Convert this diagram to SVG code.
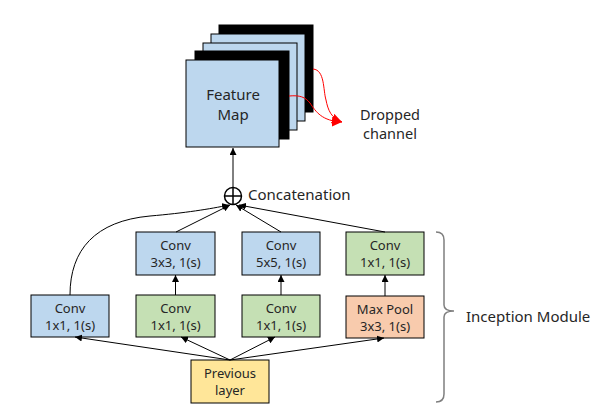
<svg xmlns="http://www.w3.org/2000/svg" width="601" height="420" viewBox="0 0 601 420">
<style>
text{font-family:"Noto Sans","Open Sans","DejaVu Sans",sans-serif;fill:#262626}
.t13{font-size:13px}
.t15{font-size:15px}
.box{stroke:#000;stroke-width:1}
.blue{fill:#BDD7EE}
.green{fill:#C5E0B4}
.orange{fill:#F8CBAD}
.yellow{fill:#FFE699}
.ln{fill:none;stroke:#000;stroke-width:1}
.red{fill:none;stroke:#FF0000;stroke-width:1}
</style>
<defs>
<marker id="ah" viewBox="0 0 10 10" refX="10" refY="5" markerWidth="7" markerHeight="7" markerUnits="userSpaceOnUse" orient="auto"><path d="M0,0 L10,5 L0,10 z" fill="#000"/></marker>
<marker id="ahr" viewBox="0 0 10 10" refX="10" refY="5" markerWidth="10" markerHeight="10" markerUnits="userSpaceOnUse" orient="auto"><path d="M0,0 L10,5 L0,10 z" fill="#FF0000"/></marker>
</defs>
<g id="featuremap">
<rect x="219" y="25" width="94" height="87" fill="#000" stroke="#000"/>
<rect x="211" y="34" width="94" height="87" class="box blue"/>
<rect x="203" y="43" width="94" height="87" class="box blue"/>
<rect x="195" y="51" width="94" height="88" fill="#000" stroke="#000"/>
<rect x="186" y="60" width="93" height="87" class="box blue"/>
<text class="t15" x="233" y="100" text-anchor="middle">Feature</text>
<text class="t15" x="233" y="120" text-anchor="middle">Map</text>
</g>
<g id="dropped">
<text x="390" y="119.5" text-anchor="middle" style="font-size:14.5px">Dropped</text>
<text x="390" y="138.5" text-anchor="middle" style="font-size:14.5px">channel</text>
</g>
<g id="concat">
<circle cx="233" cy="196" r="8.5" fill="#fff" stroke="#000" stroke-width="1.5"/>
<line x1="224.5" y1="196" x2="241.5" y2="196" stroke="#000" stroke-width="1.5"/>
<line x1="233" y1="187.5" x2="233" y2="204.5" stroke="#000" stroke-width="1.5"/>
<text class="t15" x="248" y="200">Concatenation</text>
</g>
<g id="conv1x1a">
<rect x="31" y="295" width="78" height="42" class="box blue"/>
<text class="t13" x="70" y="313" text-anchor="middle">Conv</text>
<text class="t13" x="70" y="330" text-anchor="middle">1x1, 1(s)</text>
</g>
<g id="conv3x3">
<rect x="136" y="232" width="79" height="43" class="box blue"/>
<text class="t13" x="175.5" y="250" text-anchor="middle">Conv</text>
<text class="t13" x="175.5" y="267" text-anchor="middle">3x3, 1(s)</text>
</g>
<g id="conv1x1b">
<rect x="136" y="295" width="79" height="42" class="box green"/>
<text class="t13" x="175.5" y="313" text-anchor="middle">Conv</text>
<text class="t13" x="175.5" y="330" text-anchor="middle">1x1, 1(s)</text>
</g>
<g id="conv5x5">
<rect x="242" y="232" width="78" height="43" class="box blue"/>
<text class="t13" x="281" y="250" text-anchor="middle">Conv</text>
<text class="t13" x="281" y="267" text-anchor="middle">5x5, 1(s)</text>
</g>
<g id="conv1x1c">
<rect x="242" y="295" width="78" height="42" class="box green"/>
<text class="t13" x="281" y="313" text-anchor="middle">Conv</text>
<text class="t13" x="281" y="330" text-anchor="middle">1x1, 1(s)</text>
</g>
<g id="conv1x1d">
<rect x="346" y="232" width="78" height="43" class="box green"/>
<text class="t13" x="385" y="250" text-anchor="middle">Conv</text>
<text class="t13" x="385" y="267" text-anchor="middle">1x1, 1(s)</text>
</g>
<g id="maxpool">
<rect x="346" y="296" width="78" height="42" class="box orange"/>
<text class="t13" x="385" y="314" text-anchor="middle">Max Pool</text>
<text class="t13" x="385" y="331" text-anchor="middle">3x3, 1(s)</text>
</g>
<g id="previous">
<rect x="191" y="360" width="78" height="43" class="box yellow"/>
<text class="t13" x="230" y="378" text-anchor="middle">Previous</text>
<text class="t13" x="230" y="395" text-anchor="middle">layer</text>
</g>
<g id="module">
<path d="M436,232 Q444,232 444,240 L444,305 Q444,311 454,311 Q444,311 444,317 L444,394 Q444,402 436,402" fill="none" stroke="#7f7f7f" stroke-width="1.5"/>
<text class="t15" x="466" y="322">Inception Module</text>
</g>
<g id="connectors">
<path class="red" d="M313,69 C325,70 323,90 326,100 C328,110 331,118 342,122" marker-end="url(#ahr)"/>
<path class="red" d="M289,96 C300,95 305,97 310,103 C316,112 322,121 342,122" marker-end="url(#ahr)"/>
<line class="ln" x1="233" y1="187" x2="233" y2="148" marker-end="url(#ah)"/>
<path class="ln" d="M70,295 C70,250 95,221 150,216 C185,213 210,209 229,205" marker-end="url(#ah)"/>
<line class="ln" x1="176" y1="232" x2="230" y2="205" marker-end="url(#ah)"/>
<line class="ln" x1="281" y1="232" x2="236" y2="205" marker-end="url(#ah)"/>
<line class="ln" x1="385" y1="232" x2="239" y2="205" marker-end="url(#ah)"/>
<line class="ln" x1="175.5" y1="295" x2="175.5" y2="275" marker-end="url(#ah)"/>
<line class="ln" x1="281" y1="295" x2="281" y2="275" marker-end="url(#ah)"/>
<line class="ln" x1="385" y1="296" x2="385" y2="275" marker-end="url(#ah)"/>
<line class="ln" x1="230" y1="360" x2="75" y2="337" marker-end="url(#ah)"/>
<line class="ln" x1="230" y1="360" x2="181" y2="337" marker-end="url(#ah)"/>
<line class="ln" x1="230" y1="360" x2="275" y2="337" marker-end="url(#ah)"/>
<line class="ln" x1="230" y1="360" x2="384" y2="338" marker-end="url(#ah)"/>
</g>
</svg>
